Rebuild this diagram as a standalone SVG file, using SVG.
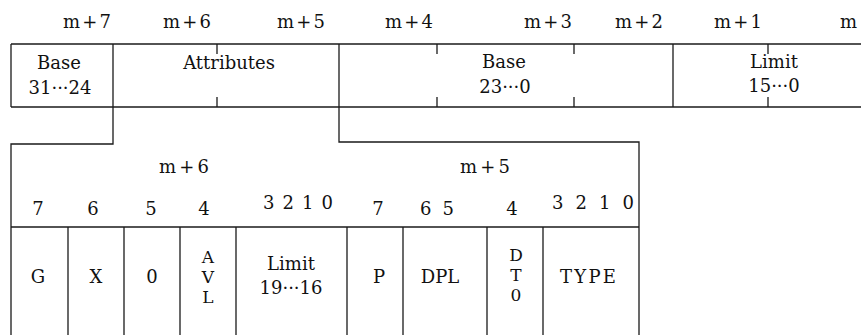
<svg xmlns="http://www.w3.org/2000/svg" width="861" height="335" viewBox="0 0 861 335">
<style>
.ln{stroke:#1a1a1a;stroke-width:1.3;fill:none}
text{font-family:"DejaVu Serif","Liberation Serif",serif;font-size:18px;fill:#111}
.t{text-anchor:middle}
.h{text-anchor:end}
.s{font-size:17px}
</style>
<rect width="861" height="335" fill="#fff"/>
<g id="byte-labels">
<text class="h" x="111" y="28" textLength="48" lengthAdjust="spacing">m+7</text>
<text class="h" x="211" y="28" textLength="48" lengthAdjust="spacing">m+6</text>
<text class="h" x="325" y="28" textLength="48" lengthAdjust="spacing">m+5</text>
<text class="h" x="433" y="28" textLength="48" lengthAdjust="spacing">m+4</text>
<text class="h" x="572" y="28" textLength="48" lengthAdjust="spacing">m+3</text>
<text class="h" x="663" y="28" textLength="48" lengthAdjust="spacing">m+2</text>
<text class="h" x="762" y="28" textLength="48" lengthAdjust="spacing">m+1</text>
<text class="h" x="857" y="28">m</text>
</g>
<g id="descriptor-row">
<line class="ln" x1="11" y1="44" x2="861" y2="44"/>
<line class="ln" x1="11" y1="107" x2="861" y2="107"/>
<line class="ln" x1="217" y1="44" x2="217" y2="54"/>
<line class="ln" x1="217" y1="97" x2="217" y2="107"/>
<line class="ln" x1="437" y1="44" x2="437" y2="54"/>
<line class="ln" x1="437" y1="97" x2="437" y2="107"/>
<line class="ln" x1="574" y1="44" x2="574" y2="54"/>
<line class="ln" x1="574" y1="97" x2="574" y2="107"/>
<line class="ln" x1="768" y1="44" x2="768" y2="54"/>
<line class="ln" x1="768" y1="97" x2="768" y2="107"/>
</g>
<g id="base-31-24">
<line class="ln" x1="11" y1="44" x2="11" y2="107"/>
<text class="t" x="59" y="69">Base</text>
<text class="t" x="60" y="94">31···24</text>
</g>
<g id="attributes">
<line class="ln" x1="113" y1="44" x2="113" y2="107"/>
<text class="t" x="229" y="69">Attributes</text>
</g>
<g id="base-23-0">
<line class="ln" x1="339" y1="44" x2="339" y2="107"/>
<text class="t" x="504" y="68">Base</text>
<text class="t" x="505" y="93">23···0</text>
</g>
<g id="limit-15-0">
<line class="ln" x1="673" y1="44" x2="673" y2="107"/>
<text class="t" x="774" y="68">Limit</text>
<text class="t" x="774" y="92">15···0</text>
</g>
<g id="connectors">
<path class="ln" d="M113,107 L113,144 L11,144 L11,335"/>
<path class="ln" d="M339,107 L339,142 L639,142 L639,335"/>
</g>
<g id="attr-header">
<text class="t" x="184" y="173" textLength="50" lengthAdjust="spacing">m+6</text>
<text class="t" x="485" y="173" textLength="50" lengthAdjust="spacing">m+5</text>
<text class="t" x="38" y="215">7</text>
<text class="t" x="93" y="215">6</text>
<text class="t" x="151" y="215">5</text>
<text class="t" x="204" y="215">4</text>
<text class="t" x="298" y="209" textLength="70" lengthAdjust="spacing">3 2 1 0</text>
<text class="t" x="378" y="215">7</text>
<text class="t" x="437" y="215" textLength="34" lengthAdjust="spacing">6 5</text>
<text class="t" x="512" y="215">4</text>
<text class="t" x="593" y="209" textLength="82" lengthAdjust="spacing">3 2 1 0</text>
<line class="ln" x1="11" y1="227" x2="639" y2="227"/>
</g>
<g id="field-G">
<line class="ln" x1="68" y1="227" x2="68" y2="335"/>
<text class="t" x="38" y="283">G</text>
</g>
<g id="field-X">
<line class="ln" x1="124" y1="227" x2="124" y2="335"/>
<text class="t" x="96" y="283">X</text>
</g>
<g id="field-0">
<line class="ln" x1="180" y1="227" x2="180" y2="335"/>
<text class="t" x="152" y="283">0</text>
</g>
<g id="field-AVL">
<line class="ln" x1="236" y1="227" x2="236" y2="335"/>
<text class="t s" x="208" y="263">A</text>
<text class="t s" x="208" y="283">V</text>
<text class="t s" x="208" y="303">L</text>
</g>
<g id="field-limit-19-16">
<line class="ln" x1="347" y1="227" x2="347" y2="335"/>
<text class="t" x="291" y="270">Limit</text>
<text class="t" x="291" y="294">19···16</text>
</g>
<g id="field-P">
<line class="ln" x1="403" y1="227" x2="403" y2="335"/>
<text class="t" x="379" y="283">P</text>
</g>
<g id="field-DPL">
<line class="ln" x1="487" y1="227" x2="487" y2="335"/>
<text class="t" x="440" y="283">DPL</text>
</g>
<g id="field-DT0">
<line class="ln" x1="543" y1="227" x2="543" y2="335"/>
<text class="t s" x="516" y="261">D</text>
<text class="t s" x="516" y="281">T</text>
<text class="t s" x="516" y="301">0</text>
</g>
<g id="field-TYPE">
<text class="t" x="588" y="283" textLength="56" lengthAdjust="spacing">TYPE</text>
</g>
</svg>
